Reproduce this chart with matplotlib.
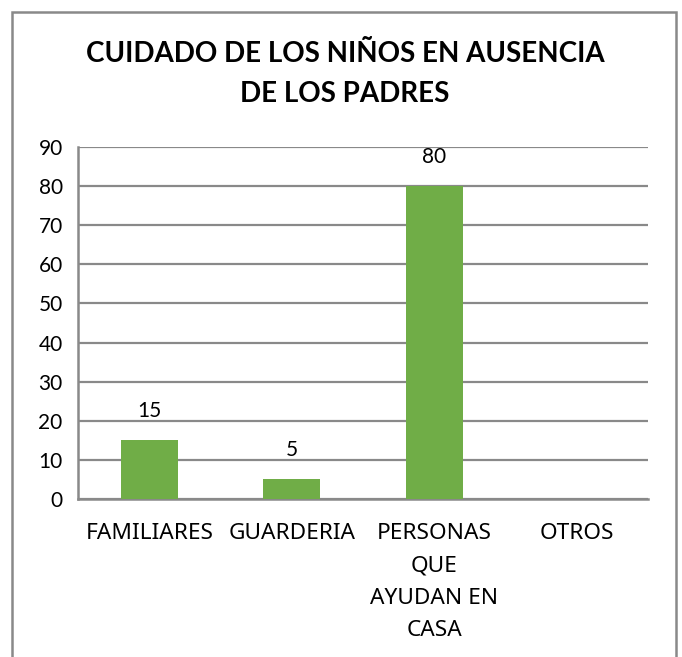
import matplotlib
matplotlib.use("Agg")
import matplotlib.pyplot as plt
from matplotlib.patches import Rectangle

categories = ["FAMILIARES", "GUARDERIA", "PERSONAS\nQUE\nAYUDAN EN\nCASA", "OTROS"]
values = [15, 5, 80, 0]
labels = ["15", "5", "80", ""]
yticks = [0, 10, 20, 30, 40, 50, 60, 70, 80, 90]
title = "CUIDADO DE LOS NIÑOS EN AUSENCIA\nDE LOS PADRES"

plt.rcParams['font.family'] = ['Lato', 'DejaVu Sans']
W, H = 682, 657
fig = plt.figure(figsize=(W/100, H/100), dpi=100)
ax = fig.add_axes([78/W, 1-499/H, (648-78)/W, (499-147)/H])

grid_c = "#898989"
x = range(len(categories))
ax.bar(x, values, width=0.4, color="#70AD47", zorder=3)
for xi, v, l in zip(x, values, labels):
    if l:
        ax.annotate(l, (xi, v), xytext=(0, 14), textcoords="offset points",
                    ha="center", va="bottom", fontsize=15, color="#000000")

ax.set_xlim(-0.5, len(categories)-0.5)
ax.set_ylim(0, 90)
ax.set_yticks(yticks)
ax.set_yticklabels([str(t) for t in yticks], fontsize=15)
ax.set_xticks(list(x))
ax.set_xticklabels(categories, fontsize=16.3, linespacing=1.72, va="top",
                   fontfamily=['Noto Sans', 'DejaVu Sans'])
ax.tick_params(axis="y", length=0, pad=11)
ax.tick_params(axis="x", length=0, pad=17)
ax.yaxis.grid(True, color=grid_c, linewidth=1.6, zorder=0)
ax.set_axisbelow(True)
for s in ["top", "right"]:
    ax.spines[s].set_visible(False)
for s in ["left", "bottom"]:
    ax.spines[s].set_color(grid_c)
    ax.spines[s].set_linewidth(1.8)

fig.text(345/W, 1-74/H, title, ha="center", va="center", fontsize=20,
         fontweight="bold", linespacing=1.65)

fig.patches.append(Rectangle((12/W, -0.05), (676-12)/W, 1-12/H+0.05,
                             transform=fig.transFigure, fill=False,
                             edgecolor=grid_c, linewidth=1.8))

fig.savefig("out.png", dpi=100)
